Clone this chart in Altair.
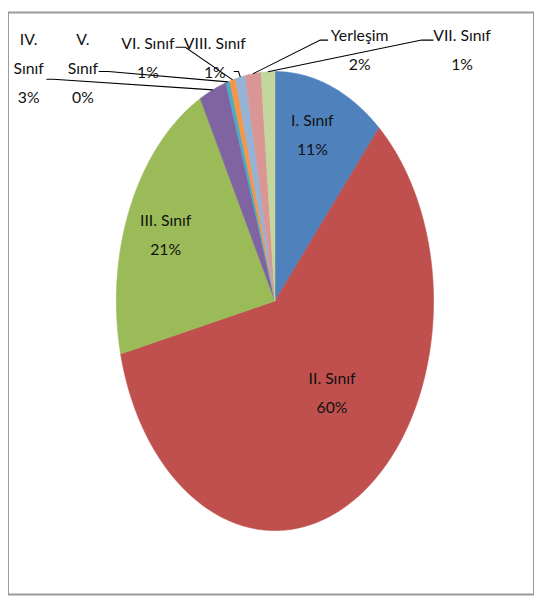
import math
import altair as alt
import pandas as pd

# ---------------- data ----------------
names = ["I. Sınıf", "II. Sınıf", "III. Sınıf", "IV. Sınıf", "V. Sınıf",
         "VI. Sınıf", "VIII. Sınıf", "Yerleşim", "VII. Sınıf"]
values = [11.4, 59.9, 20.9, 2.8, 0.4, 0.6, 1.0, 1.6, 1.4]
colors = ["#4F81BD", "#C0504D", "#9BBB59", "#8064A2", "#4BACC6",
          "#F79646", "#95B3D7", "#D99694", "#C3D69B"]

# ---------------- layout (unit-ellipse coordinates) ----------------
# centre of first label line
label_x = [0.236, 0.360, -0.689, -1.553, -1.211, -0.801, -0.379, 0.534, 1.180]
label_y = [0.785, -0.339, 0.348, 1.137, 1.137, 1.120, 1.120, 1.155, 1.155]
split_names = {"IV. Sınıf", "V. Sınıf"}
line_step = 0.127
# leader lines: name -> (start x, elbow x, y)
leaders = {
    "IV. Sınıf": (-1.441, -1.398, 0.966),
    "V. Sınıf": (-1.112, -1.050, 1.000),
    "VI. Sınıf": (-0.627, -0.565, 1.106),
    "VIII. Sınıf": (-0.260, -0.230, 1.000),
    "Yerleşim": (0.335, 0.286, 1.137),
    "VII. Sınıf": (1.000, 0.925, 1.137),
}

total = sum(values)

# ---------------- derived tables ----------------
pie_rows, lead_rows, text_rows = [], [], []
cum = 0.0
for i, (n, v) in enumerate(zip(names, values)):
    s = cum / total * 2 * math.pi
    e = (cum + v) / total * 2 * math.pi
    cum += v
    steps = max(2, int(math.ceil((e - s) / 0.01)))
    k = 0
    pie_rows.append({"name": n, "k": k, "x": 0.0, "y": 0.0}); k += 1
    for j in range(steps + 1):
        t = s + (e - s) * j / steps
        pie_rows.append({"name": n, "k": k, "x": math.sin(t), "y": math.cos(t)}); k += 1
    pie_rows.append({"name": n, "k": k, "x": 0.0, "y": 0.0})

    mid = (s + e) / 2
    if n in leaders:
        sx, ex, ly = leaders[n]
        lead_rows += [
            {"name": n, "k": 0, "x": sx, "y": ly},
            {"name": n, "k": 1, "x": ex, "y": ly},
            {"name": n, "k": 2, "x": math.sin(mid), "y": math.cos(mid)},
        ]

    pct = f"{round(v / total * 100):.0f}%"
    parts = n.split(" ", 1) if n in split_names else [n]
    lines = parts + [pct]
    for j, txt in enumerate(lines):
        text_rows.append({"name": n, "t": txt, "x": label_x[i],
                          "y": label_y[i] - j * line_step})

pie_df = pd.DataFrame(pie_rows)
lead_df = pd.DataFrame(lead_rows)
text_df = pd.DataFrame(text_rows)

W, H = 534, 591
cx, cy, a, b = 271, 293, 161, 233
xs = alt.Scale(domain=[-1, 1], range=[cx - a, cx + a], nice=False, zero=False)
ys = alt.Scale(domain=[-1, 1], range=[cy + b, cy - b], nice=False, zero=False)
cscale = alt.Scale(domain=names, range=colors)

pie = alt.Chart(pie_df).mark_line(filled=True, strokeWidth=0.6).encode(
    x=alt.X("x:Q", scale=xs, axis=None),
    y=alt.Y("y:Q", scale=ys, axis=None),
    color=alt.Color("name:N", scale=cscale, legend=None),
    stroke=alt.Stroke("name:N", scale=cscale, legend=None),
    detail="name:N",
    order=alt.Order("k:Q"),
)

leads = alt.Chart(lead_df).mark_line(color="#000000", strokeWidth=1.1).encode(
    x=alt.X("x:Q", scale=xs, axis=None),
    y=alt.Y("y:Q", scale=ys, axis=None),
    detail="name:N",
    order=alt.Order("k:Q"),
)

texts = alt.Chart(text_df).mark_text(
    font="Lato, Open Sans, DejaVu Sans Condensed",
    fontSize=16, color="#111111", align="center", baseline="middle",
).encode(
    x=alt.X("x:Q", scale=xs, axis=None),
    y=alt.Y("y:Q", scale=ys, axis=None),
    text="t:N",
)

chart = alt.layer(pie, leads, texts).properties(
    width=W, height=H, padding=0,
    autosize=alt.AutoSizeParams(type="none"),
).configure_view(stroke="#9a9a9a", strokeWidth=2)

chart.save("out.html", embed_options={"renderer": "svg", "actions": False})
